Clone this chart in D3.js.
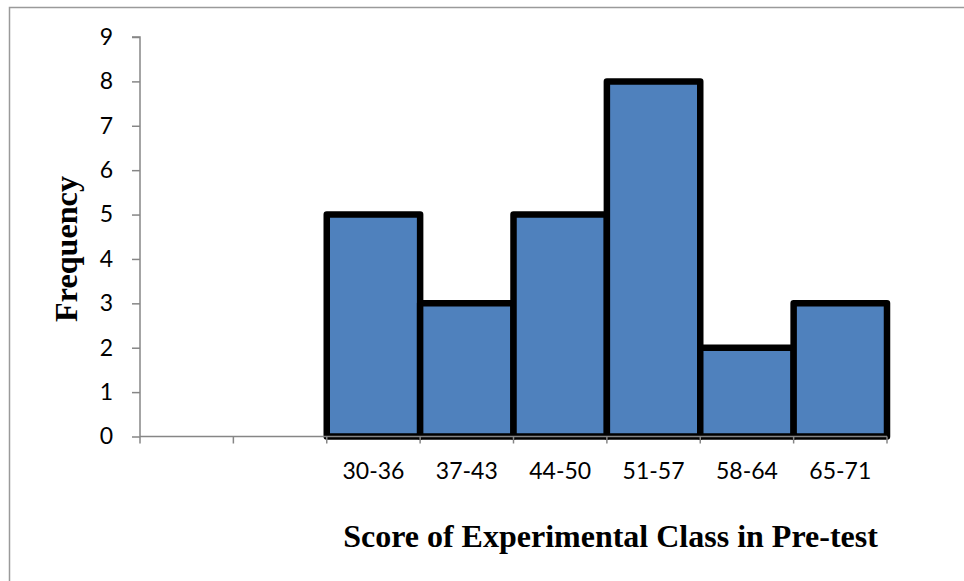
<!DOCTYPE html>
<html>
<head>
<meta charset="utf-8">
<script src="https://cdn.jsdelivr.net/npm/d3@7/dist/d3.min.js"></script>
<style>
  html, body { margin: 0; padding: 0; background: #fff; }
  svg { display: block; }
</style>
</head>
<body>
<svg id="chart" width="964" height="581"></svg>
<script>
const categories = ["", "", "30-36", "37-43", "44-50", "51-57", "58-64", "65-71"];
const frequencies = [null, null, 5, 3, 5, 8, 2, 3];
const yTicks = [0, 1, 2, 3, 4, 5, 6, 7, 8, 9];
const xTitle = "Score of Experimental Class in Pre-test";
const yTitle = "Frequency";

const svg = d3.select("#chart");
const margin = { left: 140, right: 77, top: 37, bottom: 144.5 };
const W = 964, H = 581;
const tickFont = "Lato, 'Open Sans', sans-serif";

// outer frame (top and left visible)
svg.append("path")
  .attr("d", `M9.5,${H} L9.5,7.5 L${W},7.5`)
  .attr("fill", "none").attr("stroke", "#9a9a9a").attr("stroke-width", 1.5);

const x = d3.scaleBand().domain(categories.map((d, i) => i))
  .range([margin.left, W - margin.right]).padding(0);
const y = d3.scaleLinear().domain([0, 9]).range([H - margin.bottom, margin.top]);

const data = categories.map((c, i) => ({ i, c, v: frequencies[i] }));

// bars
svg.append("g").selectAll("rect")
  .data(data.filter(d => d.v != null))
  .join("rect")
  .attr("x", d => x(d.i))
  .attr("y", d => y(d.v))
  .attr("width", x.bandwidth())
  .attr("height", d => y(0) - y(d.v))
  .attr("fill", "#4F81BD")
  .attr("stroke", "#000")
  .attr("stroke-width", 6.5)
  .attr("stroke-linejoin", "round");

// y axis
const yAxis = d3.axisLeft(y).tickValues(yTicks).tickSize(8).tickPadding(19).tickFormat(d3.format("d"));
const gy = svg.append("g").attr("transform", `translate(${margin.left},0)`).call(yAxis);
gy.attr("font-size", null).attr("font-family", null);
gy.select(".domain").attr("stroke", "#868686").attr("stroke-width", 1.5).attr("d", `M-8,${y(9)}H0V${y(0)}`);
gy.selectAll(".tick line").attr("stroke", "#868686").attr("stroke-width", 1.5);
gy.selectAll(".tick text").style("font-family", tickFont).style("font-size", "23px").attr("fill", "#000");

// x axis: ticks at band boundaries
const boundaries = d3.range(categories.length + 1).map(i => margin.left + i * x.bandwidth());
const gx = svg.append("g");
gx.append("line").attr("x1", margin.left).attr("x2", W - margin.right)
  .attr("y1", y(0)).attr("y2", y(0)).attr("stroke", "#868686").attr("stroke-width", 1.5);
gx.selectAll("line.tk").data(boundaries).join("line").attr("class", "tk")
  .attr("x1", d => d).attr("x2", d => d)
  .attr("y1", y(0)).attr("y2", y(0) + 7)
  .attr("stroke", "#868686").attr("stroke-width", 1.5);
gx.selectAll("text").data(data).join("text")
  .attr("x", d => x(d.i) + x.bandwidth() / 2)
  .attr("y", 479)
  .attr("text-anchor", "middle")
  .style("font-family", tickFont).style("font-size", "23px").attr("fill", "#000")
  .text(d => d.c);

// titles
const xt = svg.append("text")
  .attr("x", 610.5).attr("y", 547)
  .attr("text-anchor", "middle")
  .attr("font-family", "'Liberation Serif', 'Times New Roman', serif")
  .attr("font-weight", "bold").attr("font-size", 28).attr("fill", "#000")
  .text(xTitle);
const xl = xt.node().getComputedTextLength();
xt.attr("font-size", 28 * 535 / xl);

const yt = svg.append("text")
  .attr("transform", `translate(77,249) rotate(-90)`)
  .attr("text-anchor", "middle")
  .attr("font-family", "'Liberation Serif', 'Times New Roman', serif")
  .attr("font-weight", "bold").attr("font-size", 28).attr("fill", "#000")
  .text(yTitle);
const yl = yt.node().getComputedTextLength();
yt.attr("font-size", 28 * 146 / yl);
</script>
</body>
</html>
